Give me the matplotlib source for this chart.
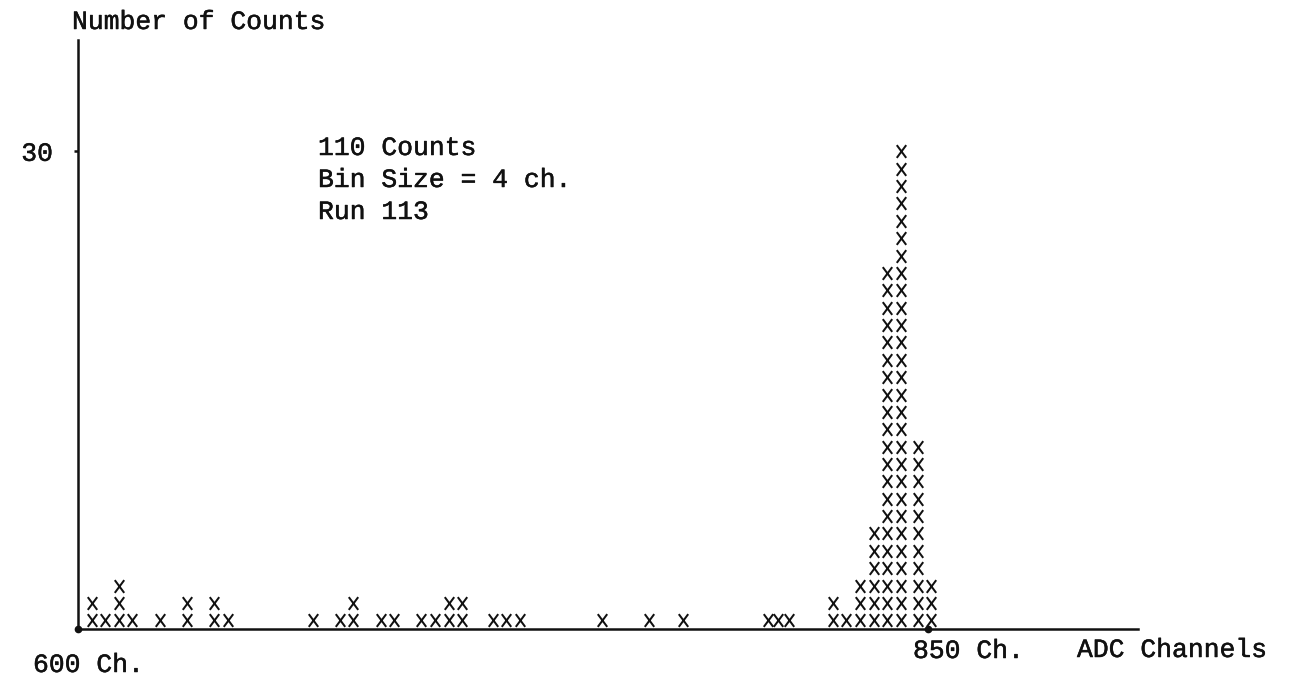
import numpy as np
import matplotlib
matplotlib.use("Agg")
import matplotlib.pyplot as plt
import matplotlib.patheffects as pe
from matplotlib.path import Path

# ---- data ----
bin_channels = [604, 608, 612, 616, 624, 632, 640, 644,
                669, 677, 681, 689, 693, 701, 705, 709, 713, 722, 726, 730,
                754, 768, 778, 803, 806, 809,
                822, 826, 830, 834, 838, 842, 847, 851]
bin_counts = [2, 1, 3, 1, 1, 2, 2, 1,
              1, 1, 2, 1, 1, 1, 1, 2, 2, 1, 1, 1,
              1, 1, 1, 1, 1, 1,
              2, 1, 3, 6, 21, 28, 11, 3]

x_tick_channels = [600, 850]
x_tick_labels = ["600 Ch.", "850 Ch."]
y_tick_label = "30"

title_y = "Number of Counts"
title_x = "ADC Channels"
info_lines = ["110 Counts", "Bin Size = 4 ch.", "Run 113"]

FONT = "Liberation Mono"
FS = 19
INK = "#111111"
W, H = 1300, 675
thick = [pe.withStroke(linewidth=0.35, foreground=INK)]

# typed "X": slightly taller than wide
typed_x = Path([(-0.37, -0.5), (0.37, 0.5), (-0.37, 0.5), (0.37, -0.5)],
               [Path.MOVETO, Path.LINETO, Path.MOVETO, Path.LINETO])

fig = plt.figure(figsize=(13, 6.75), dpi=100)
fig.patch.set_facecolor("white")

# axes placement (pixels from reference)
left_px, right_px, bottom_px, top_px = 78, 1138, 629, 40
ax = fig.add_axes([left_px / W, 1 - bottom_px / H,
                   (right_px - left_px) / W, (bottom_px - top_px) / H])
ax.set_facecolor("white")

px_per_ch = 3.4
row_px = 17.37
ax.set_xlim(600, 600 + (right_px - left_px) / px_per_ch)
ax.set_ylim(0, (bottom_px - top_px) / row_px)

# each count drawn as a typed "X" stacked in its bin column
xs = np.repeat(bin_channels, bin_counts)
ys = np.concatenate([np.arange(1, c + 1) - 0.5 for c in bin_counts])
ax.scatter(xs, ys, marker=typed_x, s=84, linewidths=1.45,
           color=INK, clip_on=False, zorder=3)

# spines
for s in ("top", "right"):
    ax.spines[s].set_visible(False)
for s in ("left", "bottom"):
    ax.spines[s].set_linewidth(1.8)
    ax.spines[s].set_color(INK)

# y tick at the peak top, labelled as in the reference
ax.set_yticks([max(bin_counts) - 0.5])
ax.set_yticklabels([y_tick_label], fontsize=FS, family=FONT)
for t in ax.get_yticklabels():
    t.set_path_effects(thick)
ax.tick_params(axis="y", direction="out", length=3, width=1.8, pad=15,
               colors=INK)
ax.set_xticks([])

# dots on axis at tick channels
ax.plot(x_tick_channels, [0, 0], "o", ms=4.5, color=INK,
        clip_on=False, zorder=4)

# x tick labels
ax.annotate(x_tick_labels[0], xy=(x_tick_channels[0], 0),
            xytext=(-45, -36), textcoords="offset pixels",
            ha="left", va="center", fontsize=FS, family=FONT, color=INK,
            path_effects=thick)
ax.annotate(x_tick_labels[1], xy=(x_tick_channels[1], 0),
            xytext=(-15, -22), textcoords="offset pixels",
            ha="left", va="center", fontsize=FS, family=FONT, color=INK,
            path_effects=thick)

# axis titles
fig.text(72 / W, 1 - 22 / H, title_y, ha="left", va="center",
         fontsize=FS, family=FONT, color=INK, path_effects=thick)
fig.text(1077 / W, 1 - 650 / H, title_x, ha="left", va="center",
         fontsize=FS, family=FONT, color=INK, path_effects=thick)

# annotation block
for i, line in enumerate(info_lines):
    fig.text(318 / W, 1 - (148 + 32 * i) / H, line, ha="left", va="center",
             fontsize=FS, family=FONT, color=INK, path_effects=thick)

fig.savefig("out.png", dpi=100, facecolor="white")
